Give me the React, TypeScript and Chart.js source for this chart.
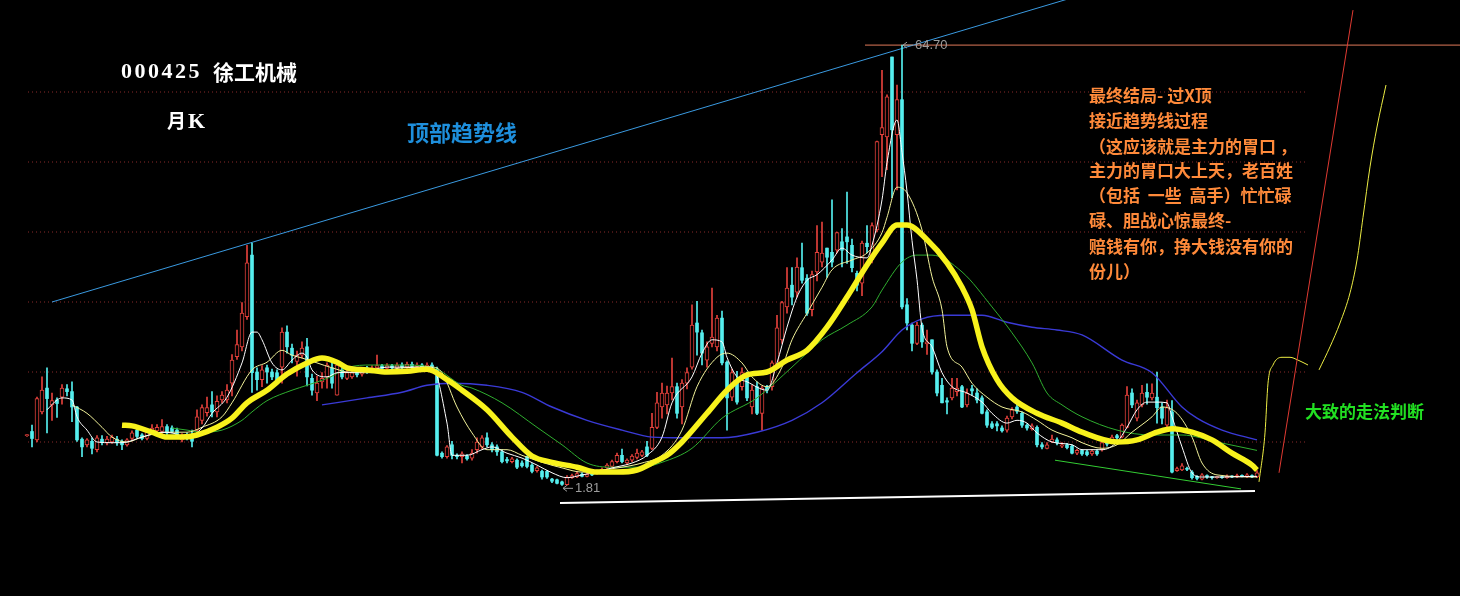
import React, { useEffect, useRef } from 'react';
import { Chart, registerables } from 'chart.js';

Chart.register(...registerables);

// 000425 徐工机械 monthly candles, oldest first (index = month number)
const opens = [
  8.9, 9.5, 8.3, 12.3, 15.7, 13.3, 14.0, 14.4, 15.6, 15.2,
  13.0, 8.4, 7.6, 8.1, 6.9, 8.4, 7.9, 8.0, 8.4, 8.1,
  7.6, 8.5, 9.7, 9.0, 8.5, 9.5, 9.6, 9.5, 10.2, 10.0,
  9.7, 8.3, 9.0, 8.8, 9.7, 11.1, 12.2, 13.3, 12.3, 14.0,
  14.0, 16.4, 20.2, 21.6, 25.9, 34.7, 18.0, 16.9, 18.6, 18.0,
  17.9, 18.7, 23.7, 21.4, 19.5, 20.4, 21.6, 17.1, 15.0, 16.6,
  17.3, 18.6, 14.7, 18.3, 17.1, 17.3, 18.0, 17.7, 18.6, 18.1,
  18.6, 18.9, 18.5, 18.9, 18.6, 19.0, 18.7, 19.1, 18.8, 19.0,
  18.7, 19.0, 18.4, 6.4, 5.9, 7.6, 6.1, 5.9, 6.0, 5.7,
  6.9, 7.3, 8.6, 7.6, 7.3, 6.6, 5.5, 5.2, 5.4, 5.0,
  5.9, 4.7, 3.9, 3.8, 3.8, 2.7, 2.6, 2.3, 1.9, 2.9,
  3.0, 3.4, 3.1, 3.6, 3.5, 3.8, 4.3, 4.5, 5.2, 6.1,
  5.0, 5.4, 5.8, 6.1, 7.3, 7.1, 10.1, 13.0, 13.3, 15.0,
  15.9, 13.0, 16.4, 18.7, 25.0, 23.6, 19.7, 22.1, 21.6, 25.7,
  19.4, 14.4, 16.4, 15.9, 17.3, 13.0, 15.9, 12.1, 15.9, 15.9,
  19.0, 22.6, 27.3, 30.4, 29.4, 32.9, 31.4, 26.9, 32.3, 33.7,
  35.7, 35.1, 35.4, 36.6, 37.3, 36.1, 32.1, 30.7, 36.4, 34.0,
  38.3, 51.9, 51.6, 63.0, 51.9, 56.9, 27.6, 24.7, 22.1, 24.7,
  22.0, 22.6, 18.0, 16.1, 13.9, 14.3, 15.2, 15.9, 13.3, 15.6,
  15.0, 14.3, 12.3, 10.6, 10.6, 10.0, 9.7, 11.6, 13.0, 12.1,
  10.4, 9.9, 10.1, 7.6, 7.1, 8.0, 8.3, 7.4, 7.6, 7.4,
  6.4, 6.8, 6.6, 6.3, 6.7, 6.9, 8.1, 8.0, 8.9, 8.7,
  10.1, 15.0, 11.4, 13.3, 15.1, 14.3, 14.4, 13.0, 10.4, 12.3,
  3.9, 4.0, 4.2, 3.7, 3.1, 2.7, 3.2, 3.0, 2.9, 3.0,
  2.9, 3.1, 3.0, 3.2, 3.0, 3.2, 3.0,
];

const highs = [
  9.1, 10.4, 14.4, 17.3, 18.6, 15.0, 14.3, 16.2, 16.2, 16.6,
  13.1, 8.6, 8.5, 8.6, 8.9, 8.9, 8.8, 9.0, 8.8, 8.3,
  8.5, 9.6, 9.9, 9.2, 9.8, 10.5, 10.5, 11.2, 10.5, 10.3,
  10.0, 9.2, 9.3, 9.7, 12.6, 13.3, 14.4, 15.2, 14.6, 15.2,
  16.2, 20.5, 24.0, 27.9, 36.1, 36.4, 18.6, 18.9, 19.0, 18.4,
  18.3, 24.3, 24.6, 22.0, 21.0, 22.3, 22.8, 17.7, 17.4, 17.9,
  19.3, 19.3, 19.3, 18.6, 18.3, 18.2, 18.3, 18.5, 18.8, 18.9,
  20.4, 19.1, 19.2, 19.1, 19.3, 19.3, 19.4, 19.4, 19.3, 19.2,
  19.3, 19.3, 18.7, 6.6, 7.5, 8.1, 6.3, 6.6, 6.2, 6.9,
  8.6, 8.9, 9.3, 7.9, 7.6, 6.9, 5.8, 5.8, 5.6, 5.3,
  6.0, 4.9, 4.5, 4.0, 3.9, 2.8, 2.7, 2.4, 3.2, 3.4,
  3.8, 3.6, 3.6, 3.8, 4.0, 4.3, 4.9, 5.4, 6.4, 7.0,
  5.6, 6.2, 7.0, 6.8, 8.1, 12.1, 15.1, 16.4, 16.0, 20.0,
  16.4, 16.9, 18.6, 27.6, 28.1, 24.0, 22.3, 30.0, 26.1, 26.7,
  19.6, 18.4, 18.1, 18.6, 18.0, 16.1, 16.6, 16.0, 16.1, 19.6,
  26.1, 28.1, 32.9, 32.9, 34.3, 36.4, 31.9, 32.4, 38.9, 39.4,
  35.7, 42.6, 38.0, 38.5, 43.7, 37.0, 32.4, 36.7, 38.9, 39.3,
  51.0, 61.1, 57.6, 63.0, 59.0, 64.70, 28.5, 25.0, 25.1, 25.0,
  24.0, 22.6, 18.3, 17.1, 14.3, 17.1, 17.1, 16.1, 15.6, 16.1,
  15.6, 14.6, 12.6, 10.9, 10.9, 10.3, 11.7, 12.9, 13.7, 12.3,
  10.6, 10.6, 10.3, 7.9, 7.9, 9.0, 8.6, 7.9, 7.8, 7.6,
  7.0, 6.9, 6.8, 6.9, 6.9, 8.1, 8.3, 9.0, 9.1, 10.6,
  15.9, 15.6, 14.0, 16.1, 16.3, 16.3, 18.0, 13.6, 14.0, 13.9,
  4.4, 4.9, 4.4, 3.9, 3.2, 3.5, 3.3, 3.1, 3.1, 3.1,
  3.3, 3.2, 3.4, 3.3, 3.5, 3.3, 3.9,
];

const lows = [
  8.8, 7.3, 8.0, 12.0, 9.3, 11.1, 11.5, 13.4, 14.6, 10.9,
  8.1, 5.9, 7.3, 6.3, 6.6, 7.6, 7.6, 7.8, 7.5, 6.9,
  7.4, 8.3, 8.6, 8.3, 8.3, 9.3, 9.4, 9.0, 9.0, 9.3,
  8.8, 8.0, 8.3, 7.3, 9.3, 10.6, 11.7, 11.6, 11.6, 13.6,
  13.6, 14.6, 19.8, 21.0, 25.5, 15.1, 15.4, 15.9, 16.4, 16.9,
  16.4, 16.4, 20.7, 19.3, 17.4, 20.0, 16.0, 14.7, 13.9, 15.7,
  15.7, 15.7, 14.7, 17.0, 16.9, 17.1, 17.3, 17.4, 17.8, 17.9,
  18.4, 18.2, 18.3, 18.3, 18.4, 18.4, 18.5, 18.5, 18.5, 18.4,
  18.4, 18.3, 6.0, 5.7, 5.7, 5.6, 5.6, 5.0, 5.4, 5.4,
  6.4, 7.0, 7.3, 6.6, 6.1, 5.0, 5.0, 5.0, 4.2, 4.4,
  4.3, 3.6, 3.7, 2.7, 2.8, 2.2, 2.0, 1.81, 1.85, 2.8,
  2.9, 3.0, 3.0, 3.2, 3.4, 3.7, 4.2, 4.4, 5.0, 5.0,
  4.8, 5.2, 5.6, 5.9, 5.9, 6.9, 9.9, 11.4, 12.0, 14.0,
  11.4, 10.6, 15.6, 18.4, 20.4, 19.0, 18.7, 21.6, 21.0, 19.0,
  9.7, 13.9, 13.4, 15.4, 13.9, 12.0, 11.9, 9.7, 15.0, 15.4,
  18.7, 22.1, 26.4, 27.6, 28.7, 30.7, 26.1, 26.0, 31.0, 33.0,
  31.5, 33.0, 35.0, 33.0, 33.5, 32.3, 29.6, 28.9, 35.0, 33.6,
  38.0, 45.9, 46.9, 42.9, 44.0, 27.0, 24.0, 21.0, 21.9, 21.5,
  20.5, 17.7, 14.6, 13.6, 12.0, 14.0, 14.6, 12.9, 13.0, 14.7,
  13.6, 12.0, 10.1, 9.9, 9.6, 9.4, 9.4, 11.3, 12.1, 10.1,
  9.7, 9.7, 7.3, 7.0, 7.0, 7.9, 7.6, 7.2, 7.0, 6.3,
  6.2, 6.1, 6.0, 6.1, 6.1, 6.7, 7.4, 7.9, 8.3, 8.6,
  10.0, 12.9, 11.0, 13.0, 13.4, 14.0, 10.7, 10.6, 10.2, 3.6,
  3.8, 3.9, 3.9, 2.7, 2.6, 2.6, 2.8, 2.7, 2.8, 2.8,
  2.8, 2.9, 2.9, 3.0, 2.9, 2.9, 2.9,
];

const closes = [
  9.0, 8.5, 14.2, 15.4, 14.2, 13.9, 13.5, 15.7, 15.2, 13.0,
  8.3, 7.3, 8.3, 7.1, 8.6, 7.9, 8.4, 8.7, 7.9, 7.6,
  8.3, 9.3, 8.8, 8.5, 9.5, 10.0, 10.1, 10.2, 9.3, 9.5,
  9.0, 9.0, 8.5, 8.1, 11.6, 12.9, 12.9, 12.3, 13.8, 14.7,
  15.4, 19.7, 21.9, 26.4, 33.6, 17.9, 16.9, 18.3, 18.0, 17.3,
  16.9, 23.7, 21.6, 20.4, 20.4, 21.4, 17.3, 15.4, 16.4, 17.1,
  19.0, 16.4, 19.0, 17.3, 17.9, 17.9, 17.6, 18.2, 18.1, 18.6,
  18.9, 18.5, 18.9, 18.6, 19.0, 18.7, 19.1, 18.8, 19.0, 18.7,
  19.0, 18.6, 6.1, 5.9, 7.3, 6.1, 5.9, 6.3, 5.6, 6.4,
  8.0, 8.6, 7.6, 6.9, 6.6, 5.2, 5.3, 5.6, 4.4, 4.6,
  4.5, 3.8, 4.3, 3.0, 3.0, 2.4, 2.1, 1.95, 3.0, 3.2,
  3.5, 3.1, 3.4, 3.3, 3.8, 4.1, 4.7, 5.2, 6.1, 5.2,
  5.4, 6.0, 6.4, 6.6, 6.1, 10.1, 13.6, 15.0, 15.0, 15.9,
  12.1, 16.4, 17.9, 24.7, 23.7, 20.7, 21.6, 23.0, 25.7, 19.3,
  14.3, 17.9, 13.7, 17.9, 14.3, 15.4, 12.1, 15.7, 15.4, 19.3,
  24.3, 27.9, 30.0, 28.7, 33.0, 31.1, 26.4, 31.9, 35.1, 35.0,
  34.4, 33.7, 37.9, 35.4, 36.6, 32.9, 30.4, 36.4, 35.9, 38.9,
  50.9, 52.9, 57.3, 52.6, 56.9, 27.3, 25.0, 22.1, 24.7, 22.3,
  22.3, 18.0, 15.0, 13.6, 13.7, 15.7, 15.7, 13.0, 15.0, 15.3,
  14.0, 12.1, 10.4, 10.1, 10.3, 9.6, 11.4, 12.6, 12.4, 10.4,
  10.0, 10.3, 7.6, 7.3, 7.6, 8.4, 7.9, 7.6, 7.2, 6.4,
  6.8, 6.3, 6.2, 6.7, 6.3, 7.9, 7.7, 8.7, 8.6, 10.4,
  14.7, 13.3, 13.6, 15.0, 14.4, 15.0, 12.9, 11.4, 12.9, 3.7,
  4.2, 4.6, 4.1, 2.9, 2.8, 3.3, 3.0, 2.9, 3.0, 2.9,
  3.1, 3.0, 3.2, 3.1, 3.3, 3.0, 3.6,
];

// Moving averages as [month index, value]
const ma5 = [
  [4, 12.6], [6, 14.0], [7, 14.3], [9, 14.0], [10, 11.6], [12, 9.7], [14, 8.0], [17, 7.9], [19, 7.9],
  [23, 8.7], [27, 9.4], [29, 9.3], [32, 8.7], [35, 10.0], [37, 12.1], [40, 14.4], [43, 19.3], [45, 23.7],
  [46, 23.7], [47, 22.6], [49, 19.3], [51, 18.3], [53, 19.7], [55, 20.7], [56, 20.1], [57, 18.3], [60, 17.3],
  [62, 17.9], [67, 18.0], [72, 18.7], [81, 18.7], [84, 10.7], [85, 6.1], [88, 6.1], [91, 6.9], [93, 7.3],
  [96, 6.4], [99, 5.7], [102, 4.7], [105, 3.6], [108, 2.9], [111, 3.3], [114, 3.7], [117, 4.3], [121, 5.0],
  [124, 6.1], [127, 8.7], [129, 13.6], [133, 17.3], [135, 20.7], [137, 22.6], [139, 22.3], [140, 20.1],
  [142, 17.3], [144, 16.6], [148, 15.4], [150, 19.3], [152, 24.4], [154, 28.7], [156, 31.1], [158, 31.9],
  [161, 34.0], [163, 35.7], [165, 34.7], [168, 34.3], [169, 36.1], [171, 42.6], [172, 47.9], [174, 54.0],
  [175, 49.4], [176, 43.8], [177, 36.8], [178, 31.2], [179, 24.3], [181, 21.6], [183, 17.9], [185, 15.9],
  [188, 15.0], [191, 13.7], [193, 12.1], [196, 10.7], [198, 11.1], [200, 10.7], [202, 9.3], [205, 8.0],
  [209, 7.6], [211, 6.9], [215, 6.9], [218, 8.0], [220, 10.1], [222, 12.6], [224, 13.7], [226, 13.7],
  [228, 13.6], [229, 11.6], [231, 7.3], [233, 3.6], [235, 3.0], [239, 3.0], [246, 3.1],
];

const ma10 = [
  [9, 13.3], [12, 12.1], [15, 10.1], [17, 8.7], [20, 8.0], [23, 8.7], [28, 9.4], [32, 9.4], [35, 10.1],
  [39, 11.6], [41, 13.6], [45, 18.3], [48, 19.4], [51, 21.1], [53, 20.4], [55, 20.0], [58, 19.3], [61, 18.6],
  [65, 17.9], [69, 17.9], [75, 18.6], [81, 18.7], [83, 17.9], [86, 13.0], [89, 9.3], [92, 6.9], [96, 6.9],
  [99, 6.1], [103, 5.1], [107, 4.3], [111, 3.7], [115, 4.0], [119, 4.4], [123, 5.0], [127, 6.1], [131, 9.7],
  [134, 15.9], [138, 20.1], [140, 20.7], [143, 19.3], [145, 17.3], [148, 15.9], [151, 18.7], [153, 22.6],
  [156, 26.4], [159, 30.1], [161, 32.6], [165, 34.0], [168, 35.0], [171, 37.9], [172, 40.1], [174, 44.4],
  [176, 43.6], [179, 38.3], [181, 31.6], [183, 26.9], [184, 21.6], [187, 18.7], [189, 16.4], [192, 14.4],
  [195, 13.0], [199, 12.3], [202, 11.1], [205, 9.7], [209, 8.6], [211, 7.9], [215, 7.1], [218, 7.6],
  [221, 9.4], [225, 11.6], [227, 13.0], [230, 12.1], [233, 8.7], [235, 5.0], [238, 3.3], [246, 3.0],
];

const ma20 = [
  [19, 10.4], [21, 10.3], [25, 9.4], [28, 8.7], [31, 8.7], [34, 9.0], [38, 10.1], [41, 11.4], [44, 13.6],
  [48, 15.4], [52, 17.7], [56, 19.3], [59, 20.0], [62, 19.4], [64, 18.6], [68, 18.3], [72, 18.0], [76, 18.1],
  [80, 18.4], [84, 16.9], [87, 15.4], [92, 12.6], [97, 8.7], [101, 6.0], [105, 5.1], [110, 4.4], [114, 3.7],
  [118, 3.7], [122, 4.0], [125, 5.0], [128, 6.1], [131, 8.0], [136, 12.1], [140, 15.4], [144, 17.6],
  [148, 18.0], [152, 19.7], [156, 21.1], [160, 24.4], [164, 28.7], [168, 33.3], [171, 36.4], [174, 39.0],
  [176, 39.0], [180, 36.9], [184, 33.6], [187, 30.1], [189, 26.9], [191, 21.6], [194, 16.9], [197, 14.3],
  [202, 12.1], [207, 10.7], [211, 9.4], [218, 8.0], [222, 8.3], [226, 9.4], [229, 9.9], [233, 9.4],
  [237, 8.3], [241, 6.4], [245, 4.7], [246, 4.0],
];

const ma30 = [
  [29, 10.0], [32, 9.7], [35, 9.4], [39, 9.7], [43, 11.1], [45, 12.3], [48, 13.9], [53, 15.4], [56, 16.1],
  [61, 17.4], [64, 18.6], [69, 19.0], [75, 19.0], [81, 18.7], [87, 16.1], [89, 15.7], [95, 13.6], [102, 10.1],
  [107, 7.6], [112, 5.0], [117, 4.4], [123, 4.4], [127, 5.1], [133, 7.1], [139, 11.4], [146, 14.3],
  [153, 18.7], [159, 22.6], [164, 24.7], [169, 27.3], [171, 29.7], [175, 33.7], [178, 34.7], [181, 34.7],
  [187, 32.3], [193, 27.3], [197, 23.6], [201, 19.3], [204, 15.0], [207, 13.3], [211, 11.6], [218, 9.7],
  [225, 9.0], [231, 9.0], [238, 8.0], [246, 6.8],
];

const ma60 = [
  [59, 13.3], [68, 14.3], [75, 15.1], [80, 16.1], [85, 16.4], [92, 16.1], [99, 15.1], [105, 13.0],
  [112, 11.1], [119, 9.7], [125, 8.7], [131, 8.6], [139, 8.6], [146, 9.4], [153, 11.1], [159, 13.6],
  [166, 17.9], [171, 20.9], [175, 24.0], [179, 25.6], [184, 26.1], [191, 26.1], [196, 25.1], [201, 24.4],
  [206, 24.0], [211, 23.3], [219, 19.7], [225, 17.9], [231, 13.0], [234, 11.4], [239, 9.7], [246, 8.3],
];

// Hand-drawn study lines: [month index, price]
const topTrend = [[5, 28.0], [212, 72.1]];
const bottomBase = [[106.6, -0.7], [245.6, 1.0]];
const lowerTrend = [[205.6, 5.4], [242.8, 1.3]];
const steepPath = [[250.4, 3.6], [265.2, 69.7]];
const forecastA = [
  [246.4, 2.3], [247.6, 9.3], [248.2, 16.4], [249.2, 19.0], [251, 20.1], [252.6, 20.1], [254.2, 19.7], [256.2, 19.0],
];
const forecastB = [
  [258.4, 18.3], [260.6, 21.6], [262.6, 25.0], [264.6, 29.3], [266, 34.0], [267.2, 40.1], [268.6, 47.3],
  [270, 53.0], [271.8, 59.0],
];
const resistanceSpan = [167.6, 290];

// Price grid
const gridPrices = [8, 18, 28, 38, 48, 58];
const gridSpan = [0.2, 256.2];

// Texts
const stockCode = '000425';
const stockName = '徐工机械';
const periodLabel = ['月', 'K'];
const trendLabel = '顶部趋势线';
const noteLines = [
  '最终结局- 过X顶',
  '接近趋势线过程',
  '（这应该就是主力的胃口 ，',
  '主力的胃口大上天，老百姓',
  '（包括  一些  高手）忙忙碌',
  '碌、胆战心惊最终-',
  '赔钱有你，挣大钱没有你的',
  '份儿）',
];
const forecastLabel = '大致的走法判断';

const UP = '#e3403b';
const DOWN = '#55eeee';
const CJK = '"Noto Sans CJK SC"';

const pts = (arr: number[][]) => arr.map(([x, y]) => ({ x, y }));

const upBodies: any[] = [];
const downBodies: any[] = [];
const upWicks: any[] = [];
const downWicks: any[] = [];
opens.forEach((o, i) => {
  const c = closes[i];
  const rising = c >= o;
  (rising ? upBodies : downBodies).push({ x: i, y: [o, c] });
  (rising ? upWicks : downWicks).push({ x: i, y: [lows[i], highs[i]] });
});

const peakIdx = highs.indexOf(Math.max(...highs));
const troughIdx = lows.indexOf(Math.min(...lows));
const peakPrice = highs[peakIdx];
const troughPrice = lows[troughIdx];

const lineSet = (data: any[], color: string, width: number, order: number, extra: any = {}) => ({
  type: 'line',
  data,
  borderColor: color,
  borderWidth: width,
  pointRadius: 0,
  fill: false,
  order,
  ...extra,
});

const notesPlugin = {
  id: 'notes',
  afterDatasetsDraw(chart: any) {
    const { ctx } = chart;
    const xs = chart.scales.x;
    const ys = chart.scales.y;
    ctx.save();
    ctx.textBaseline = 'middle';
    ctx.textAlign = 'left';

    // stock title
    ctx.fillStyle = '#ffffff';
    ctx.font = 'bold 22px "Liberation Serif"';
    (ctx as any).letterSpacing = '2.5px';
    ctx.fillText(stockCode, 121, 72);
    (ctx as any).letterSpacing = '0px';
    ctx.font = `bold 21px ${CJK}`;
    ctx.fillText(stockName, 213, 72);

    ctx.font = `bold 19px ${CJK}`;
    ctx.fillText(periodLabel[0], 167, 121);
    ctx.font = 'bold 22px "Liberation Serif"';
    ctx.fillText(periodLabel[1], 188, 122);

    // trend-line caption
    ctx.fillStyle = '#1e8fdc';
    ctx.font = `bold 22px ${CJK}`;
    ctx.fillText(trendLabel, 407, 133);

    // commentary block
    ctx.fillStyle = '#ff8a3a';
    ctx.font = `bold 17px ${CJK}`;
    const rows = [96, 121, 147, 171, 196, 221, 247, 272];
    noteLines.forEach((t, k) => ctx.fillText(t, 1089, rows[k]));

    ctx.fillStyle = '#22e022';
    ctx.font = `bold 17px ${CJK}`;
    ctx.fillText(forecastLabel, 1305, 412);

    // extreme price markers
    const marker = (idx: number, price: number, dy: number) => {
      const px = xs.getPixelForValue(idx) + 1;
      const py = ys.getPixelForValue(price) + dy;
      ctx.strokeStyle = '#9c9c9c';
      ctx.lineWidth = 1;
      ctx.beginPath();
      ctx.moveTo(px, py);
      ctx.lineTo(px + 10, py);
      ctx.moveTo(px, py);
      ctx.lineTo(px + 4, py - 3);
      ctx.moveTo(px, py);
      ctx.lineTo(px + 4, py + 3);
      ctx.stroke();
      ctx.fillStyle = '#9c9c9c';
      ctx.font = '13px "Liberation Sans"';
      ctx.fillText(price.toFixed(2), px + 12, py);
    };
    marker(peakIdx, peakPrice, 0);
    marker(troughIdx, troughPrice, 3);

    ctx.restore();
  },
};

export default function App() {
  const ref = useRef<HTMLCanvasElement>(null);

  useEffect(() => {
    document.body.style.margin = '0';
    document.body.style.background = '#000';
    if (!ref.current) return;

    const grids = gridPrices.map((p) =>
      lineSet(
        [{ x: gridSpan[0], y: p }, { x: gridSpan[1], y: p }],
        '#8a2a2a',
        1,
        100,
        { borderDash: [1, 3] }
      )
    );

    const chart = new Chart(ref.current, {
      type: 'bar',
      data: {
        datasets: [
          ...grids,
          lineSet(pts(topTrend), '#3a9ae0', 1, 90),
          lineSet(pts(bottomBase), '#ffffff', 2, 90),
          lineSet(pts(lowerTrend), '#33cc33', 1, 90),
          lineSet(
            [{ x: resistanceSpan[0], y: peakPrice }, { x: resistanceSpan[1], y: peakPrice }],
            '#e07a5a',
            1,
            90
          ),
          {
            type: 'bar',
            data: upWicks,
            backgroundColor: UP,
            barThickness: 1,
            grouped: false,
            order: 80,
          },
          {
            type: 'bar',
            data: downWicks,
            backgroundColor: DOWN,
            barThickness: 1,
            grouped: false,
            order: 80,
          },
          {
            type: 'bar',
            data: upBodies,
            backgroundColor: '#000000',
            borderColor: UP,
            borderWidth: 1,
            borderSkipped: false,
            barThickness: 4,
            minBarLength: 1,
            grouped: false,
            order: 70,
          },
          {
            type: 'bar',
            data: downBodies,
            backgroundColor: DOWN,
            barThickness: 3,
            minBarLength: 1,
            grouped: false,
            order: 70,
          },
          lineSet(pts(ma60), '#3a3ad6', 1.4, 60, { cubicInterpolationMode: 'monotone' }),
          lineSet(pts(ma30), '#2fae2f', 1, 55, { cubicInterpolationMode: 'monotone' }),
          lineSet(pts(ma10), '#f2f29a', 1, 50, { cubicInterpolationMode: 'monotone' }),
          lineSet(pts(ma5), '#ffffff', 1, 45, { cubicInterpolationMode: 'monotone' }),
          lineSet(pts(ma20), '#f8f21c', 5.5, 40, { cubicInterpolationMode: 'monotone' }),
          lineSet(pts(steepPath), '#e03a32', 1, 30),
          lineSet(pts(forecastA), '#eeee44', 1, 30, { cubicInterpolationMode: 'monotone' }),
          lineSet(pts(forecastB), '#eeee44', 1, 30, { cubicInterpolationMode: 'monotone' }),
        ] as any,
      },
      options: {
        responsive: false,
        devicePixelRatio: 1,
        animation: false,
        events: [],
        layout: { padding: 0 },
        plugins: { legend: { display: false }, tooltip: { enabled: false }, title: { display: false } },
        scales: {
          x: { type: 'linear', min: -5.4, max: 286.6, offset: false, display: false },
          y: { type: 'linear', min: -14, max: 58 + 92 / 7, display: false },
        },
      } as any,
      plugins: [notesPlugin],
    });

    return () => chart.destroy();
  }, []);

  return (
    <div style={{ width: 1460, height: 596, background: '#000' }}>
      <canvas ref={ref} width={1460} height={596} style={{ display: 'block' }} />
    </div>
  );
}
